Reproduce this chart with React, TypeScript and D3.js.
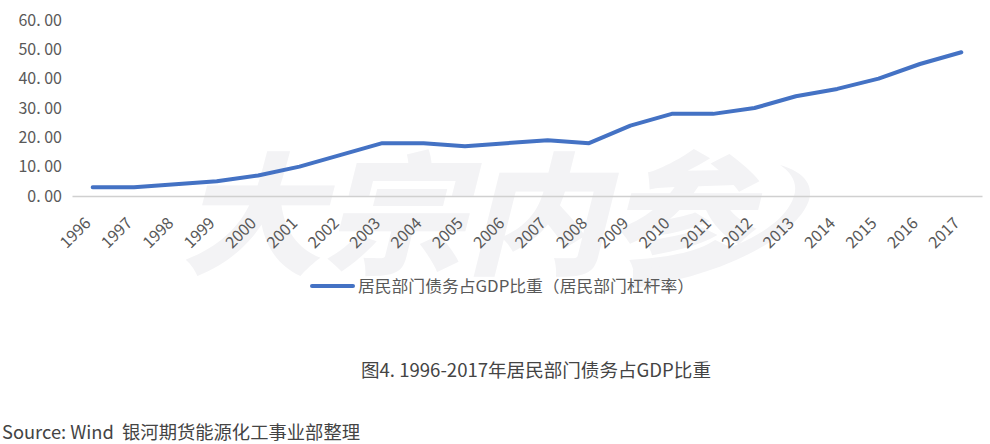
import { useEffect, useRef } from 'react';
import * as d3 from 'd3';

const years = ['1996','1997','1998','1999','2000','2001','2002','2003','2004','2005','2006','2007','2008','2009','2010','2011','2012','2013','2014','2015','2016','2017'];
const leverage = [3,3,4,5,7,10,14,18,18,17,18,19,18,24,28,28,30,34,36.5,40,45,49];
const yTicks = [0,10,20,30,40,50,60];

const seriesName = '居民部门债务占GDP比重（居民部门杠杆率）';
const caption = '图4. 1996-2017年居民部门债务占GDP比重';
const source = 'Source: Wind  银河期货能源化工事业部整理';
const watermark = '大宗内参';

const FONT = '"Noto Sans CJK SC", "Noto Sans", sans-serif';

export default function App() {
  const ref = useRef<SVGSVGElement>(null);

  useEffect(() => {
    if (!ref.current) return;
    const svg = d3.select(ref.current);
    svg.selectAll('*').remove();

    const x = d3.scaleBand().domain(years).range([72, 982]);
    const y = d3.scaleLinear().domain([0, 60]).range([196, 20]);
    const px = (d: string) => x(d)! + x.bandwidth() / 2;

    // watermark behind everything
    const wm = svg.append('g').attr('fill', '#f3f3f5');
    wm.append('text')
      .attr('transform', 'translate(180,264) skewX(-14)')
      .attr('textLength', 570)
      .attr('lengthAdjust', 'spacingAndGlyphs')
      .style('font-family', FONT)
      .style('font-size', '132px')
      .style('font-weight', 900)
      .text(watermark);
    wm.append('path')
      .attr('d', 'M780,165 C815,175 825,200 780,235 C740,265 680,282 633,288 L633,270 C700,262 770,240 790,205 C800,188 795,175 780,165 Z');

    // y axis
    const yAxis = svg.append('g')
      .attr('transform', 'translate(62,0)')
      .call(d3.axisLeft(y).tickValues(yTicks).tickSize(0).tickPadding(0).tickFormat(d => (d as number).toFixed(2).replace('.', '. ')));
    yAxis.select('.domain').remove();
    yAxis.selectAll('text')
      .attr('fill', '#595959')
      .style('font-family', FONT)
      .style('font-size', '16px');

    // x axis
    const xAxis = svg.append('g')
      .attr('transform', `translate(0,${y(0)})`)
      .call(d3.axisBottom(x).tickSize(0));
    xAxis.select('.domain').attr('stroke', '#d0d0d0').attr('stroke-width', 1.5);
    xAxis.selectAll('text')
      .attr('fill', '#595959')
      .attr('text-anchor', 'end')
      .attr('dy', 0)
      .attr('transform', 'translate(-3,26) rotate(-45)')
      .style('font-family', FONT)
      .style('font-size', '16px');

    // line
    const line = d3.line<number>()
      .x((_, i) => px(years[i]))
      .y(d => y(d));
    svg.append('path')
      .datum(leverage)
      .attr('fill', 'none')
      .attr('stroke', '#4472c4')
      .attr('stroke-width', 4)
      .attr('stroke-linecap', 'round')
      .attr('stroke-linejoin', 'round')
      .attr('d', line);

    // legend
    svg.append('line')
      .attr('x1', 312).attr('x2', 353)
      .attr('y1', 286).attr('y2', 286)
      .attr('stroke', '#4472c4')
      .attr('stroke-width', 4)
      .attr('stroke-linecap', 'round');
    svg.append('text')
      .attr('x', 358).attr('y', 292)
      .attr('fill', '#595959')
      .attr('textLength', 336)
      .attr('lengthAdjust', 'spacingAndGlyphs')
      .style('font-family', FONT)
      .style('font-size', '16px')
      .text(seriesName);

    // caption and source
    svg.append('text')
      .attr('x', 361).attr('y', 377)
      .attr('fill', '#444')
      .attr('textLength', 350)
      .attr('lengthAdjust', 'spacingAndGlyphs')
      .style('font-family', FONT)
      .style('font-size', '18px')
      .text(caption);
    svg.append('text')
      .attr('x', 2).attr('y', 439)
      .attr('fill', '#444')
      .attr('textLength', 358)
      .attr('lengthAdjust', 'spacingAndGlyphs')
      .style('font-family', FONT)
      .style('font-size', '18px')
      .style('white-space', 'pre')
      .text(source);
  }, []);

  return (
    <svg
      ref={ref}
      width={990}
      height={444}
      style={{ position: 'absolute', left: 0, top: 0, background: '#fff' }}
    />
  );
}
